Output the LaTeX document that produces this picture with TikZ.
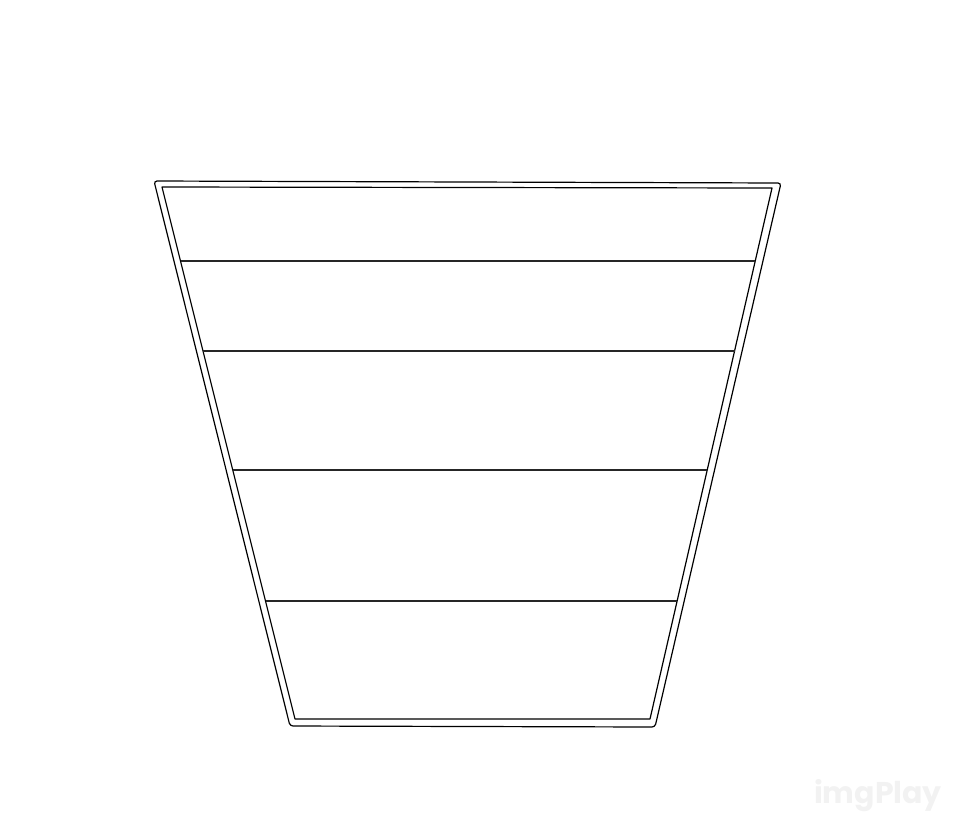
\documentclass[tikz,border=0pt]{standalone}
\usepackage{fontspec}
\setsansfont{Poppins}
\begin{document}
\begin{tikzpicture}[x=1pt,y=-1pt,
  edge/.style={line width=1.2pt,black,line join=round},
  divider/.style={line width=1.5pt,black!85}]
\useasboundingbox (0,0) rectangle (960,828);
% outer trapezoid
\coordinate (oTL) at (154,181);
\coordinate (oTR) at (781,183);
\coordinate (oBR) at (655,727);
\coordinate (oBL) at (290,726);
\draw[edge,rounded corners=3pt] (oTL) -- (oTR) -- (oBR) -- (oBL) -- cycle;
% inner trapezoid
\coordinate (iTL) at (162,187);
\coordinate (iTR) at (772,188);
\coordinate (iBR) at (650,719);
\coordinate (iBL) at (295,719);
\draw[edge] (iTL) -- (iTR) -- (iBR) -- (iBL) -- cycle;
% dividers
\foreach \y/\n in {261/a,351/b,470/c,601/d}{
  \coordinate (L\n) at ({162+(\y-187)*0.25},\y);
  \coordinate (R\n) at ({772-(\y-188)*0.2298},\y);
  \draw[divider] (L\n) -- (R\n);
}
% watermark
\node[text=black!5,font=\sffamily\bfseries\fontsize{30}{30}\selectfont,anchor=center] (wm) at (878,796) {imgPlay};
\end{tikzpicture}
\end{document}
